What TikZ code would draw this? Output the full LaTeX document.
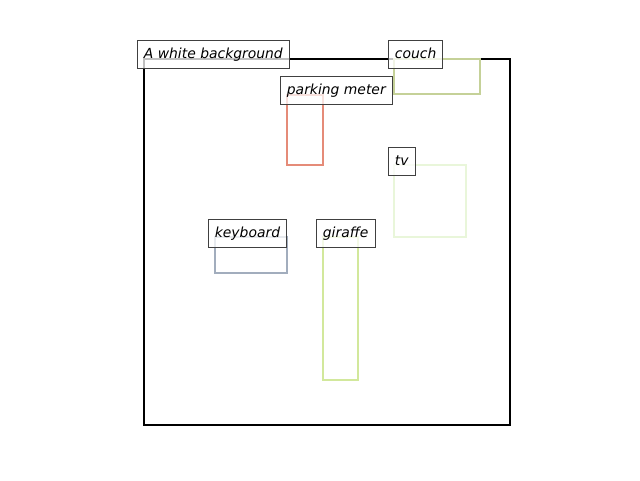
\documentclass[tikz,border=0pt]{standalone}
\usepackage{fontspec}
\setmainfont{DejaVu Sans}
\usetikzlibrary{positioning}

\definecolor{couchcol}{HTML}{C5D198}
\definecolor{metercol}{HTML}{E58B78}
\definecolor{tvcol}{HTML}{E9F6DA}
\definecolor{keycol}{HTML}{A2ADBD}
\definecolor{giracol}{HTML}{D2E89C}

\tikzset{
  objbox/.style={line width=2.2pt},
  tag/.style={draw=black!75,fill=white,fill opacity=0.75,text opacity=1,
    line width=0.8pt,anchor=west,inner xsep=6.5pt,inner ysep=7pt,
    text height=11pt,text depth=3pt,
    font=\fontsize{13.9}{16}\selectfont\itshape}
}

\begin{document}
\begin{tikzpicture}[x=1pt,y=-1pt]
\useasboundingbox (0,0) rectangle (640,480);

\draw[line width=2.2pt] (144,59) rectangle (510,425);%le fond

\draw[objbox,couchcol] (394,59) coordinate (couch) rectangle (480,94);
\draw[objbox,metercol] (287,95) coordinate (meter) rectangle (323,165);
\draw[objbox,tvcol] (394,165) coordinate (tv) rectangle (466,237);
\draw[objbox,keycol] (215,237) coordinate (keyb) rectangle (287,273);
\draw[objbox,giracol] (323,237) coordinate (gira) rectangle (358,380);
\coordinate (bg) at (144,59);

\node[tag] (bgtag) at ([xshift=-7,yshift=5]bg) {A white background};
\node[tag] (couchtag) at ([xshift=-6,yshift=5]couch) {couch};
\node[tag] (metertag) at ([xshift=-7,yshift=5]meter) {parking meter};
\node[tag] (tvtag) at ([xshift=-6,yshift=4]tv) {tv};
\node[tag] (keybtag) at ([xshift=-7,yshift=4]keyb) {keyboard};
\node[tag] (giratag) at ([xshift=-7,yshift=4]gira) {giraffe};
\end{tikzpicture}
\end{document}
